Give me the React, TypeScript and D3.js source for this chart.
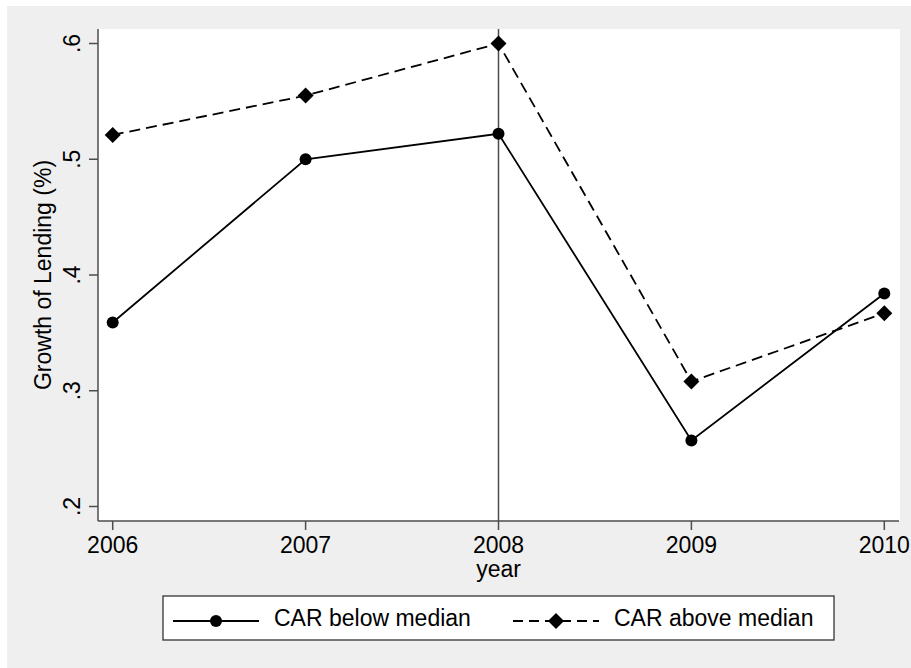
import React from "react";
import * as d3 from "d3";

const years = [2006, 2007, 2008, 2009, 2010];
const belowMedian = [0.359, 0.5, 0.522, 0.257, 0.384];
const aboveMedian = [0.521, 0.555, 0.6, 0.308, 0.367];
const yTicks = [0.2, 0.3, 0.4, 0.5, 0.6];
const yTickLabels = [".2", ".3", ".4", ".5", ".6"];
const seriesNames = ["CAR below median", "CAR above median"];
const markerYear = 2008;

const FONT = "'Liberation Sans', Arial, Helvetica, sans-serif";
const FS = 23;

export default function App() {
  const x = d3.scaleLinear().domain([2006, 2010]).range([112.7, 884.3]);
  const y = d3.scaleLinear().domain([0.2, 0.6]).range([506.5, 43.5]);
  const plot = { left: 98, right: 900, top: 29, bottom: 521 };
  const axisColor = "#4d4d4d";

  const line = d3
    .line<number>()
    .x((_, i) => x(years[i]))
    .y((d) => y(d));

  const diamond = (cx: number, cy: number, r: number) =>
    `M${cx},${cy - r}L${cx + r},${cy}L${cx},${cy + r}L${cx - r},${cy}Z`;

  const legendY = 621;

  return (
    <svg
      width={911}
      height={668}
      style={{ position: "absolute", left: 0, top: 0, fontFamily: FONT }}
    >
      <rect x={0} y={0} width={911} height={668} fill="#ffffff" />
      <rect x={7} y={6} width={904} height={662} fill="#efefef" />
      <rect
        x={plot.left}
        y={plot.top}
        width={plot.right - plot.left}
        height={plot.bottom - plot.top}
        fill="#ffffff"
      />
      <line
        x1={x(markerYear)}
        x2={x(markerYear)}
        y1={plot.top}
        y2={plot.bottom}
        stroke={axisColor}
        strokeWidth={1.5}
      />
      <line x1={plot.left} x2={plot.left} y1={plot.top} y2={plot.bottom} stroke={axisColor} strokeWidth={1.5} />
      <line x1={plot.left} x2={plot.right - 1} y1={plot.bottom} y2={plot.bottom} stroke={axisColor} strokeWidth={1.5} />
      {yTicks.map((t, i) => (
        <g key={"yt" + i}>
          <line x1={89} x2={plot.left} y1={y(t)} y2={y(t)} stroke={axisColor} strokeWidth={1.5} />
          <text
            transform={`translate(80,${y(t)}) rotate(-90)`}
            textAnchor="middle"
            fontSize={FS}
            fill="#000"
          >
            {yTickLabels[i]}
          </text>
        </g>
      ))}
      {years.map((yr) => (
        <g key={"xt" + yr}>
          <line x1={x(yr)} x2={x(yr)} y1={plot.bottom} y2={530} stroke={axisColor} strokeWidth={1.5} />
          <text x={x(yr)} y={553} textAnchor="middle" fontSize={FS} fill="#000">
            {yr}
          </text>
        </g>
      ))}
      <text x={(x(2006) + x(2010)) / 2} y={577} textAnchor="middle" fontSize={FS} fill="#000">
        year
      </text>
      <text
        transform={`translate(51,${(y(0.2) + y(0.6)) / 2}) rotate(-90)`}
        textAnchor="middle"
        fontSize={FS}
        fill="#000"
      >
        Growth of Lending (%)
      </text>

      <path d={line(belowMedian) || ""} fill="none" stroke="#000" strokeWidth={1.8} />
      <path
        d={line(aboveMedian) || ""}
        fill="none"
        stroke="#000"
        strokeWidth={1.8}
        strokeDasharray="11,6"
      />
      {belowMedian.map((v, i) => (
        <circle key={"c" + i} cx={x(years[i])} cy={y(v)} r={6} fill="#000" />
      ))}
      {aboveMedian.map((v, i) => (
        <path key={"d" + i} d={diamond(x(years[i]), y(v), 8)} fill="#000" />
      ))}

      <rect x={163} y={596} width={671} height={44} fill="#ffffff" stroke="#333" strokeWidth={1.3} />
      <line x1={173} x2={259} y1={legendY} y2={legendY} stroke="#000" strokeWidth={1.8} />
      <circle cx={216} cy={legendY} r={6} fill="#000" />
      <text x={274} y={626} fontSize={FS} fill="#000">
        {seriesNames[0]}
      </text>
      <line
        x1={513}
        x2={599}
        y1={legendY}
        y2={legendY}
        stroke="#000"
        strokeWidth={1.8}
        strokeDasharray="10,6"
      />
      <path d={diamond(556, legendY, 8)} fill="#000" />
      <text x={614} y={626} fontSize={FS} fill="#000">
        {seriesNames[1]}
      </text>
    </svg>
  );
}
